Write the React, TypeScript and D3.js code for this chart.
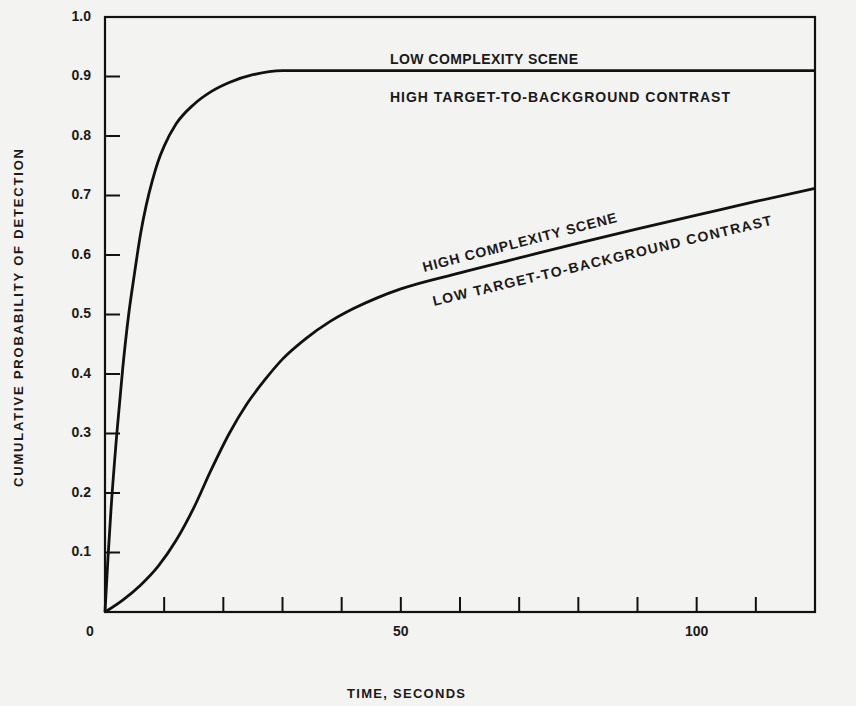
import React from "react";
import * as d3 from "d3";

// time in seconds, cumulative probability
const lowComplexity: [number, number][] = [
  [0, 0], [0.5, 0.09], [1, 0.17], [2, 0.3], [3, 0.41], [4, 0.5], [5, 0.57],
  [6, 0.635], [7, 0.685], [8, 0.725], [9, 0.758], [10, 0.783], [12, 0.82],
  [15, 0.853], [18, 0.875], [21, 0.89], [25, 0.903], [30, 0.91], [60, 0.91],
  [90, 0.91], [120, 0.91],
];
const highComplexity: [number, number][] = [
  [0, 0], [3, 0.02], [6, 0.045], [9, 0.077], [12, 0.12], [15, 0.175],
  [18, 0.24], [21, 0.3], [24, 0.35], [27, 0.39], [30, 0.425], [34, 0.46],
  [38, 0.488], [42, 0.51], [46, 0.528], [50, 0.543], [60, 0.57], [70, 0.595],
  [80, 0.62], [90, 0.644], [100, 0.667], [110, 0.69], [120, 0.712],
];
const yTicks = [0.1, 0.2, 0.3, 0.4, 0.5, 0.6, 0.7, 0.8, 0.9];
const yTickLabels = ["0.1", "0.2", "0.3", "0.4", "0.5", "0.6", "0.7", "0.8", "0.9"];
const xTicks = [10, 20, 30, 40, 50, 60, 70, 80, 90, 100, 110];
const xTickLabels: [number, string][] = [[0, "0"], [50, "50"], [100, "100"]];

const W = 856;
const H = 706;
const font = "'Liberation Sans', Arial, Helvetica, sans-serif";

export default function App() {
  const x = d3.scaleLinear().domain([0, 120]).range([105, 815]);
  const y = d3.scaleLinear().domain([0, 1]).range([612, 17]);

  const line = d3.line<[number, number]>()
    .x(d => x(d[0]))
    .y(d => y(d[1]))
    .curve(d3.curveMonotoneX);

  const tick = 15;

  return (
    <svg width={W} height={H} style={{ position: "absolute", left: 0, top: 0, background: "#f3f3f1" }}>
      {/* frame */}
      <rect x={x(0)} y={y(1)} width={x(120) - x(0)} height={y(0) - y(1)}
        fill="none" stroke="#111" strokeWidth={2.2} />

      {yTicks.map(v => (
        <line key={"yt" + v} x1={x(0)} x2={x(0) + tick} y1={y(v)} y2={y(v)} stroke="#111" strokeWidth={2} />
      ))}
      {xTicks.map(v => (
        <line key={"xt" + v} x1={x(v)} x2={x(v)} y1={y(0)} y2={y(0) - tick} stroke="#111" strokeWidth={2} />
      ))}

      <g fontFamily={font} fontWeight="bold" fontSize={14} fill="#1a1a1a">
        <text x={91} y={y(1)} textAnchor="end" dominantBaseline="middle">1.0</text>
        {yTicks.map((v, i) => (
          <text key={"yl" + v} x={91} y={y(v)} textAnchor="end" dominantBaseline="middle">{yTickLabels[i]}</text>
        ))}
        {xTickLabels.map(([v, s]) => (
          <text key={"xl" + v} x={v === 0 ? 90 : x(v)} y={y(0) + 20} textAnchor="middle" dominantBaseline="middle">{s}</text>
        ))}
      </g>

      <path d={line(lowComplexity) || ""} fill="none" stroke="#111" strokeWidth={2.8} />
      <path d={line(highComplexity) || ""} fill="none" stroke="#111" strokeWidth={2.8} />

      <g fontFamily={font} fontWeight="bold" fontSize={14} fill="#1a1a1a">
        <text x={390} y={64} textLength={188} lengthAdjust="spacing">LOW COMPLEXITY SCENE</text>
        <text x={390} y={102} textLength={340} lengthAdjust="spacing">HIGH TARGET-TO-BACKGROUND CONTRAST</text>
        <text transform="translate(424,272) rotate(-14.5)" textLength={200} lengthAdjust="spacing">HIGH COMPLEXITY SCENE</text>
        <text transform="translate(434,306) rotate(-13.5)" textLength={348} lengthAdjust="spacing">LOW TARGET-TO-BACKGROUND CONTRAST</text>
      </g>

      <g fontFamily={font} fontWeight="bold" fontSize={13} fill="#1a1a1a">
        <text transform="translate(23,318) rotate(-90)" textAnchor="middle" textLength={338} lengthAdjust="spacing">CUMULATIVE PROBABILITY OF DETECTION</text>
        <text x={406} y={698} textAnchor="middle" textLength={118} lengthAdjust="spacing">TIME, SECONDS</text>
      </g>
    </svg>
  );
}
